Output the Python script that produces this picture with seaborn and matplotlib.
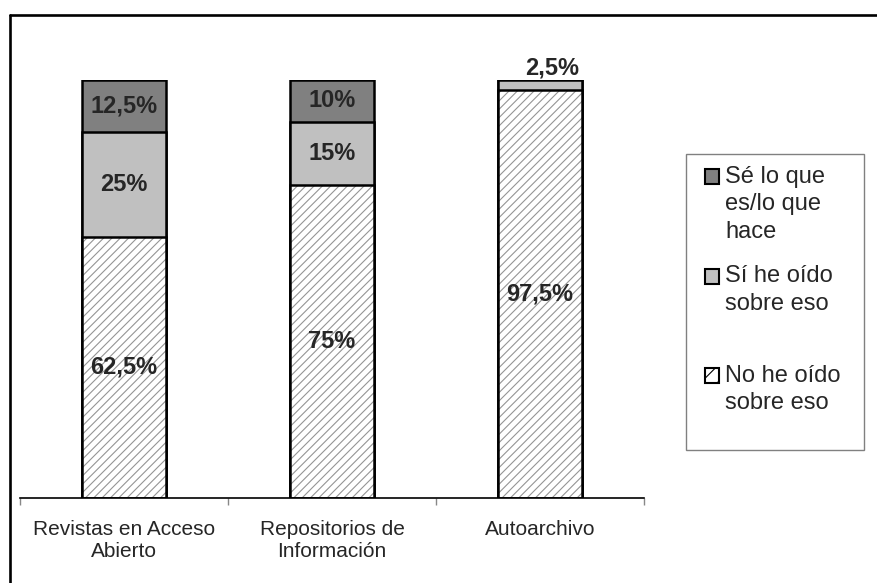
import seaborn as sns
import numpy as np
import pandas as pd
import matplotlib.pyplot as plt
import matplotlib.patches as mpatches
from matplotlib.lines import Line2D
from matplotlib.legend_handler import HandlerPatch

categories = ["Revistas en Acceso\nAbierto", "Repositorios de\nInformación", "Autoarchivo"]
no_oido = np.array([62.5, 75, 97.5])
si_oido = np.array([25, 15, 2.5])
se_lo_que = np.array([12.5, 10, 0])

# legend order as in the chart (top to bottom)
series_names = ["Sé lo que\nes/lo que\nhace", "Sí he oído\nsobre eso\n", "No he oído\nsobre eso"]
dark = "#808080"
light = "#c0c0c0"
hatch_gray = "#959595"

sns.set_style("white")
plt.rcParams['font.family'] = ['Liberation Sans', 'DejaVu Sans']
plt.rcParams['hatch.linewidth'] = 0.8

df = pd.DataFrame({
    "cat": categories,
    "top": no_oido + si_oido + se_lo_que,
    "mid": no_oido + si_oido,
    "low": no_oido,
})

fig = plt.figure(figsize=(8.77, 5.83), dpi=100)
ax = fig.add_axes([20 / 877, 85 / 583, 624 / 877, 418 / 583])

# stacked bars drawn back to front using cumulative totals
sns.barplot(data=df, x="cat", y="top", color=dark, saturation=1, width=0.4,
            edgecolor="black", linewidth=1.8, ax=ax)
sns.barplot(data=df, x="cat", y="mid", color=light, saturation=1, width=0.4,
            edgecolor="black", linewidth=1.8, ax=ax)
sns.barplot(data=df, x="cat", y="low", color="white", saturation=1, width=0.4,
            edgecolor=hatch_gray, linewidth=0, hatch="////", ax=ax)
sns.barplot(data=df, x="cat", y="low", fill=False, saturation=1, width=0.4,
            edgecolor="black", linewidth=1.8, ax=ax)

def fmt(v):
    return f"{v:g}".replace(".", ",") + "%"

for i in range(len(categories)):
    bottoms = [0, no_oido[i], no_oido[i] + si_oido[i]]
    vals = [no_oido[i], si_oido[i], se_lo_que[i]]
    for b, v in zip(bottoms, vals):
        if v <= 0:
            continue
        if v >= 5:
            ax.text(i, b + v / 2, fmt(v), ha="center", va="center",
                    fontsize=17, fontweight="bold")
        else:
            ax.text(i + 0.06, 100 + 2.9, fmt(v), ha="center", va="center",
                    fontsize=17, fontweight="bold", clip_on=False)

ax.set_ylim(0, 100)
ax.set_xlim(-0.5, 2.5)
ax.set_xlabel("")
ax.set_ylabel("")
ax.set_yticks([])
for s in ["left", "top", "right"]:
    ax.spines[s].set_visible(False)
ax.spines["bottom"].set_linewidth(1.2)
ax.spines["bottom"].set_color("black")
ax.set_xticks([-0.5, 0.5, 1.5, 2.5], minor=True)
ax.tick_params(axis="x", which="both", bottom=True)
ax.tick_params(axis="x", which="major", length=0, pad=16, labelsize=15)
ax.tick_params(axis="x", which="minor", length=5, width=1, color="#888888",
               direction="out")

# legend: square marker lined up with the first line of each label
pitch = 20.0  # pt between text lines

def top_aligned(n_lines):
    def patch_func(legend, orig_handle, xdescent, ydescent, width, height, fontsize):
        shift = (n_lines - 1) / 2 * pitch
        return mpatches.Rectangle((-xdescent, -ydescent + shift), width, height)
    return HandlerPatch(patch_func=patch_func)

handles = [
    mpatches.Patch(facecolor=dark, edgecolor="black", linewidth=1.5),
    mpatches.Patch(facecolor=light, edgecolor="black", linewidth=1.5),
    mpatches.Patch(facecolor="white", edgecolor="black", linewidth=1.5, hatch="//"),
]
hmap = {h: top_aligned(name.count("\n") + 1) for h, name in zip(handles, series_names)}
leg = fig.legend(handles, series_names, loc="upper left", handler_map=hmap,
                 bbox_to_anchor=(705 / 877, 1 - 166 / 583),
                 fontsize=17, frameon=False,
                 handlelength=0.6, handleheight=0.6, handletextpad=0.25,
                 labelspacing=0.95, borderpad=0, borderaxespad=0)
for t in leg.get_texts():
    t.set_linespacing(1.32)

fig.add_artist(mpatches.Rectangle((686 / 877, 1 - 450 / 583), 178 / 877, 296 / 583,
                                  fill=False, edgecolor="#808080", linewidth=1,
                                  transform=fig.transFigure))

# outer chart border (visible on left and top only)
fig.add_artist(Line2D([10 / 877, 10 / 877], [0, 1 - 15 / 583], color="black",
                      linewidth=1.9, transform=fig.transFigure))
fig.add_artist(Line2D([10 / 877, 1], [1 - 15 / 583, 1 - 15 / 583], color="black",
                      linewidth=1.9, transform=fig.transFigure))

fig.savefig("out.png", dpi=100)
